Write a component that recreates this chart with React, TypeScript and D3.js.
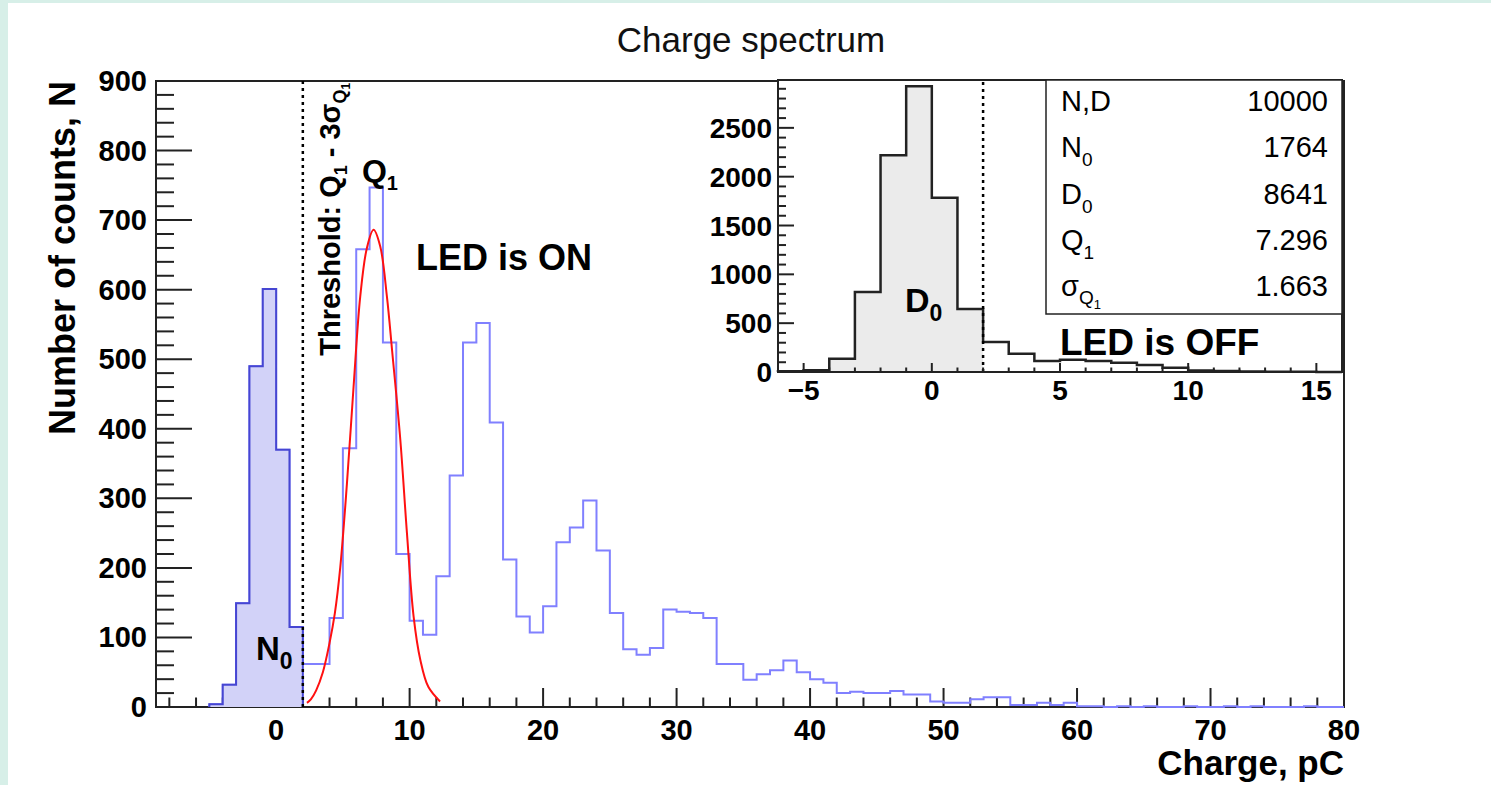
import React from "react"
import * as d3 from "d3"

const W = 1491
const H = 785

// LED on: counts per 1 pC bin, first bin starts at -5 pC
const onStart = -5
const onCounts = [
  4, 32, 149, 490, 601, 370, 115,
  62, 62, 128, 372, 658, 747, 524, 220, 124, 104,
  188, 333, 524, 552, 409, 212, 130, 107, 145, 237,
  258, 297, 225, 135, 83, 75, 85, 140, 137, 135,
  128, 62, 62, 39, 47, 53, 67, 50, 40, 35,
  20, 22, 20, 20, 23, 18, 18, 8, 6, 6,
  11, 14, 14, 3, 3, 6, 3, 6, 1, 1,
  0, 1, 0, 1, 0, 0, 1, 0, 0, 1,
  0, 1, 0, 0, 0, 1, 0, 0,
]

// LED off (inset): counts per 1 pC bin, first bin starts at -6 pC
const offStart = -6
const offCounts = [
  8, 18, 136, 820, 2220, 2925, 1785, 645,
  306, 187, 112, 125, 112, 95, 72, 44, 16, 10, 4, 3, 2, 1,
]

// gaussian fit around the single photoelectron peak
const fitX = [2.31, 2.6, 3.0, 3.5, 4.0, 4.4, 4.8, 5.3, 5.8, 6.3, 6.8, 7.3, 7.8, 8.3, 8.7, 9.3, 9.8, 10.3, 10.8, 11.4, 12.28]
const fitY = [6, 11, 24, 50, 92, 135, 200, 320, 460, 590, 660, 686, 662, 590, 510, 385, 250, 130, 68, 29, 8]

const threshold = 2

const statLabels = ["N,D", "N0", "D0", "Q1", "sQ1"]
const statValues = ["10000", "1764", "8641", "7.296", "1.663"]

const onXTicks = [0, 10, 20, 30, 40, 50, 60, 70, 80]
const onYTicks = [0, 100, 200, 300, 400, 500, 600, 700, 800, 900]
const offXTicks = [-5, 0, 5, 10, 15]
const offYTicks = [0, 500, 1000, 1500, 2000, 2500]

const font = "'Liberation Sans', Arial, Helvetica, sans-serif"

function stepPath(start: number, counts: number[], sx: any, sy: any, from = 0, to = counts.length) {
  const p = d3.path()
  p.moveTo(sx(start + from), sy(0))
  for (let i = from; i < to; i++) {
    p.lineTo(sx(start + i), sy(counts[i]))
    p.lineTo(sx(start + i + 1), sy(counts[i]))
  }
  p.lineTo(sx(start + to), sy(0))
  return p.toString()
}

function StatLabel({ name }: { name: string }) {
  if (name === "N,D") return <tspan>N,D</tspan>
  if (name === "sQ1")
    return (
      <>
        <tspan>σ</tspan>
        <tspan fontSize={19} dy={8}>Q</tspan>
        <tspan fontSize={13} dy={5}>1</tspan>
      </>
    )
  return (
    <>
      <tspan>{name[0]}</tspan>
      <tspan fontSize={19} dy={9}>{name.slice(1)}</tspan>
    </>
  )
}

export default function App() {
  const x = d3.scaleLinear().domain([-9, 80]).range([156, 1344])
  const y = d3.scaleLinear().domain([0, 900]).range([707, 81])
  const ix = d3.scaleLinear().domain([-6, 16]).range([778, 1342])
  const iy = d3.scaleLinear().domain([0, 2990]).range([372, 80])

  const nThr = threshold - onStart
  const dThr = threshold - offStart

  const fitLine = d3.line<number>()
    .x((d, i) => x(fitX[i]))
    .y(d => y(d))
    .curve(d3.curveCatmullRom)(fitY)

  const xMinor = d3.range(-8, 80.1, 2)
  const yMinor = d3.range(0, 900.1, 20)
  const ixMinor = d3.range(-6, 16.1, 1)
  const iyMinor = d3.range(0, 2990, 100)

  const [x0, x1] = x.range()
  const [y0, y1] = y.range()
  const [ix0, ix1] = ix.range()
  const [iy0, iy1] = iy.range()

  const stroke = "#222"

  return (
    <svg width={W} height={H} style={{ position: "absolute", left: 0, top: 0, display: "block" }} fontFamily={font}>
      <rect width={W} height={H} fill="#d7efe8" />
      <rect x={8} y={3} width={W - 8} height={H - 3} fill="#fff" />

      <text x={751} y={52} textAnchor="middle" fontSize={35} fill="#111">Charge spectrum</text>

      {/* main frame */}
      <rect x={x0} y={y1} width={x1 - x0} height={y0 - y1} fill="none" stroke={stroke} strokeWidth={2} />
      {yMinor.map(v => (
        <line key={"ym" + v} x1={x0} x2={x0 + (v % 100 === 0 ? 36 : 18)} y1={y(v)} y2={y(v)} stroke={stroke} strokeWidth={2} />
      ))}
      {xMinor.map(v => (
        <line key={"xm" + v} x1={x(v)} x2={x(v)} y1={y0} y2={y0 - (v % 10 === 0 ? 19 : 9.5)} stroke={stroke} strokeWidth={2} />
      ))}
      {onYTicks.map(v => (
        <text key={"yl" + v} x={x0 - 9} y={y(v) + 10} textAnchor="end" fontSize={29} fontWeight="bold">{v}</text>
      ))}
      {onXTicks.map(v => (
        <text key={"xl" + v} x={x(v)} y={y0 + 33} textAnchor="middle" fontSize={29} fontWeight="bold">{v}</text>
      ))}
      <text transform={`translate(75,${y1}) rotate(-90)`} textAnchor="end" fontSize={36} fontWeight="bold">Number of counts, N</text>
      <text x={x1} y={775} textAnchor="end" fontSize={35} fontWeight="bold">Charge, pC</text>

      {/* LED on histogram */}
      <path d={stepPath(onStart, onCounts, x, y)} fill="none" stroke="#8080ff" strokeWidth={2} />
      <path d={stepPath(onStart, onCounts, x, y, 0, nThr)} fill="#d2d2f8" stroke="#4646d2" strokeWidth={2} />
      <path d={fitLine ?? ""} fill="none" stroke="#ff1010" strokeWidth={2} />
      <line x1={x(threshold)} x2={x(threshold)} y1={y0} y2={y1} stroke="#000" strokeWidth={2.5} strokeDasharray="3,4" />

      <text transform={`translate(${x(threshold) + 37},${y(505)}) rotate(-90)`} fontSize={29} fontWeight="bold">
        Threshold: Q<tspan fontSize={18} dy={7}>1</tspan><tspan dy={-7}> - 3σ</tspan>
        <tspan fontSize={18} dy={6}>Q</tspan><tspan fontSize={12} dy={4}>1</tspan>
      </text>
      <text x={x(6.43)} y={y(755)} fontSize={32} fontWeight="bold">Q<tspan fontSize={20} dy={8}>1</tspan></text>
      <text x={x(10.48)} y={y(628)} fontSize={36} fontWeight="bold">LED is ON</text>
      <text x={x(-1.51)} y={y(67)} fontSize={33} fontWeight="bold">N<tspan fontSize={23} dy={9}>0</tspan></text>

      {/* inset: LED off */}
      <rect x={ix0} y={iy1} width={ix1 - ix0} height={iy0 - iy1} fill="#fff" />
      <path d={stepPath(offStart, offCounts, ix, iy, 0, dThr)} fill="#ebebeb" stroke="none" />
      <path d={stepPath(offStart, offCounts, ix, iy)} fill="none" stroke="#222" strokeWidth={2.5} />
      <line x1={ix(threshold)} x2={ix(threshold)} y1={iy0} y2={iy1} stroke="#000" strokeWidth={2.5} strokeDasharray="3,4" />
      <rect x={ix0} y={iy1} width={ix1 - ix0} height={iy0 - iy1} fill="none" stroke={stroke} strokeWidth={2} />
      {iyMinor.map(v => (
        <line key={"iym" + v} x1={ix0} x2={ix0 + (v % 500 === 0 ? 16 : 8)} y1={iy(v)} y2={iy(v)} stroke={stroke} strokeWidth={2} />
      ))}
      {ixMinor.map(v => (
        <line key={"ixm" + v} x1={ix(v)} x2={ix(v)} y1={iy0} y2={iy0 - (v % 5 === 0 ? 9 : 4.5)} stroke={stroke} strokeWidth={2} />
      ))}
      {offYTicks.map(v => (
        <text key={"iyl" + v} x={ix0 - 6} y={iy(v) + 10} textAnchor="end" fontSize={28} fontWeight="bold">{v}</text>
      ))}
      {offXTicks.map(v => (
        <text key={"ixl" + v} x={ix(v)} y={iy0 + 28} textAnchor="middle" fontSize={28} fontWeight="bold">{d3.format("d")(v)}</text>
      ))}
      <text x={ix(-1.05)} y={iy(614)} fontSize={34} fontWeight="bold">D<tspan fontSize={23} dy={9}>0</tspan></text>
      <text x={ix(5)} y={iy(174)} fontSize={37} fontWeight="bold">LED is OFF</text>

      {/* stats box */}
      <rect x={1046} y={iy1} width={ix1 - 1046} height={234} fill="#fff" stroke={stroke} strokeWidth={1.5} />
      {statLabels.map((s, i) => (
        <g key={s}>
          <text x={1061} y={111 + i * 46.3} fontSize={29}><StatLabel name={s} /></text>
          <text x={1328} y={111 + i * 46.3} fontSize={29} textAnchor="end">{statValues[i]}</text>
        </g>
      ))}
    </svg>
  )
}
